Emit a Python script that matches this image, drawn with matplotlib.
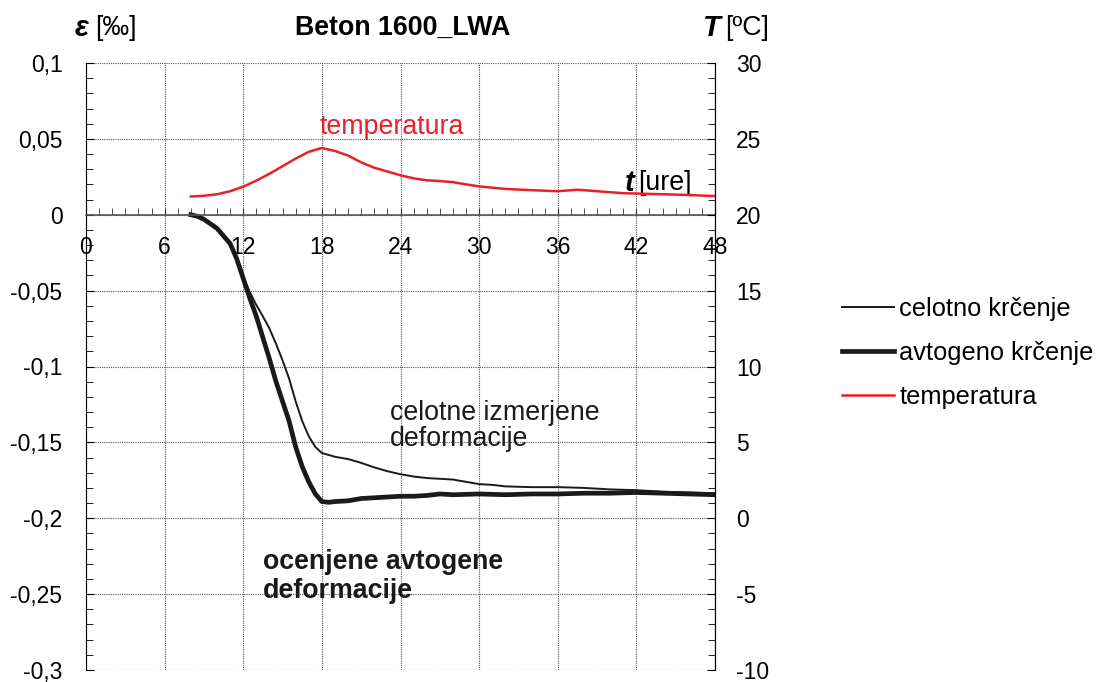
import matplotlib
matplotlib.use("Agg")
import matplotlib.pyplot as plt
from matplotlib.ticker import MultipleLocator, FixedLocator
from matplotlib.lines import Line2D

plt.rcParams['font.family'] = ['Liberation Sans', 'DejaVu Sans']
plt.rcParams['font.size'] = 16.5
big = 19.3

# temperature [degC], right axis
t_temp = [8, 9, 10, 11, 12, 13, 14, 15, 16, 17, 18, 19, 20, 21, 22, 23, 24, 25, 26, 27,
          28, 29, 30, 32, 34, 36, 37.5, 39, 41, 44, 46, 48]
temp = [21.2, 21.25, 21.35, 21.55, 21.85, 22.25, 22.7, 23.2, 23.7, 24.15, 24.4, 24.2, 23.9,
        23.45, 23.1, 22.85, 22.6, 22.4, 22.27, 22.22, 22.15, 22.0, 21.87, 21.7, 21.62, 21.55,
        21.65, 21.55, 21.42, 21.35, 21.3, 21.23]

# total measured shrinkage [permille]
t_tot = [8, 8.5, 9, 10, 11, 11.5, 12, 12.5, 13, 13.5, 14, 14.5, 15, 15.5, 16, 16.5, 17, 17.5,
         18, 19, 20, 21, 22, 23, 24, 25, 26, 27, 28, 29, 30, 31, 32, 34, 36, 38, 40, 42, 44, 46, 48]
eps_tot = [0, -0.001, -0.003, -0.009, -0.019, -0.029, -0.041, -0.051, -0.0595, -0.067, -0.075,
           -0.085, -0.096, -0.108, -0.123, -0.136, -0.146, -0.153, -0.157, -0.1595, -0.161,
           -0.1635, -0.1665, -0.169, -0.171, -0.1725, -0.1735, -0.174, -0.1745, -0.176, -0.1775,
           -0.178, -0.179, -0.1795, -0.1795, -0.180, -0.181, -0.1815, -0.1825, -0.183, -0.1835]

# estimated autogenous shrinkage [permille]
t_auto = [8, 8.5, 9, 10, 11, 11.5, 12, 12.5, 13, 13.5, 14, 14.5, 15, 15.5, 16, 16.5, 17, 17.5,
          18, 18.5, 19, 20, 21, 22, 23, 24, 25, 26, 27, 28, 30, 32, 34, 36, 38, 40, 42, 44, 46, 48]
eps_auto = [0, -0.001, -0.003, -0.009, -0.019, -0.029, -0.042, -0.055, -0.067, -0.081, -0.095,
            -0.110, -0.123, -0.136, -0.153, -0.166, -0.176, -0.184, -0.189, -0.1895, -0.189,
            -0.1885, -0.187, -0.1865, -0.186, -0.1855, -0.1855, -0.185, -0.184, -0.1845, -0.184,
            -0.1845, -0.184, -0.184, -0.1835, -0.1835, -0.183, -0.1835, -0.184, -0.1845]

x_ticks = [0, 6, 12, 18, 24, 30, 36, 42, 48]
y_ticks = [0.1, 0.05, 0, -0.05, -0.1, -0.15, -0.2, -0.25, -0.3]
y_labels = ["0,1", "0,05", "0", "-0,05", "-0,1", "-0,15", "-0,2", "-0,25", "-0,3"]
t_ticks = [30, 25, 20, 15, 10, 5, 0, -5, -10]

red = '#e8202a'
blk = '#1a1a1a'

fig = plt.figure(figsize=(10.98, 6.82), dpi=100)
ax = fig.add_axes([86 / 1098, 12 / 682, 629 / 1098, 607 / 682])
ax.set_xlim(0, 48)
ax.set_ylim(-0.3, 0.1)

ax.spines['top'].set_visible(False)
ax.spines['bottom'].set_position(('data', 0))
ax.spines['bottom'].set_color('#555555')
ax.spines['bottom'].set_linewidth(1.2)

ax.xaxis.set_major_locator(FixedLocator(x_ticks))
ax.xaxis.set_minor_locator(MultipleLocator(1))
ax.set_xticklabels([str(v) for v in x_ticks])
ax.tick_params(axis='x', which='both', direction='in', pad=15, color='#333333', length=5)

ax.yaxis.set_major_locator(FixedLocator(y_ticks))
ax.set_yticklabels(y_labels)
ax.yaxis.set_minor_locator(MultipleLocator(0.01))
ax.tick_params(axis='y', which='both', direction='in', pad=17)
ax.tick_params(axis='y', which='major', length=6)
ax.tick_params(axis='y', which='minor', length=5)

ax.grid(True, which='major', ls=(0, (1, 1)), color='#555555', lw=0.8)

ax.plot(t_tot, eps_tot, color=blk, lw=1.4)
ax.plot(t_auto, eps_auto, color=blk, lw=3.4)

ax2 = ax.twinx()
ax2.set_ylim(-10, 30)
for s in ['top', 'bottom', 'left']:
    ax2.spines[s].set_visible(False)
ax2.yaxis.set_major_locator(FixedLocator(t_ticks))
ax2.set_yticklabels([str(v) for v in t_ticks])
ax2.yaxis.set_minor_locator(MultipleLocator(1))
ax2.tick_params(axis='y', which='both', direction='in', pad=15)
ax2.tick_params(axis='y', which='major', length=6)
ax2.tick_params(axis='y', which='minor', length=5)
ax2.plot(t_temp, temp, color=red, lw=1.8)

# annotations
ax.text(17.85, 0.0575, 'temperatura', color=red, ha='left', va='center', fontsize=big)
ax.text(23.2, -0.1395, 'celotne izmerjene\ndeformacije', color=blk, ha='left', va='center',
        linespacing=1.0, fontsize=big)
ax.text(13.5, -0.2385, 'ocenjene avtogene\ndeformacije', color=blk, ha='left', va='center',
        fontweight='bold', linespacing=1.12, fontsize=big)
ax.text(41.1, 0.021, 't', fontweight='bold', fontstyle='italic', ha='left', va='center',
        fontsize=21)
ax.text(42.1, 0.021, '[ure]', ha='left', va='center', fontsize=big)

# header texts
fig.text(403 / 1098, 1 - 28 / 682, 'Beton 1600_LWA', ha='center', va='center',
         fontweight='bold', fontsize=big)
fig.text(75 / 1098, 1 - 28 / 682, 'ε', ha='left', va='center', fontweight='bold',
         fontstyle='italic', fontsize=21)
fig.text(95 / 1098, 1 - 28 / 682, '[‰]', ha='left', va='center', fontsize=big)
fig.text(703 / 1098, 1 - 28 / 682, 'T', ha='left', va='center', fontweight='bold',
         fontstyle='italic', fontsize=21)
fig.text(725 / 1098, 1 - 28 / 682, '[ºC]', ha='left', va='center', fontsize=big)

handles = [Line2D([], [], color=blk, lw=1.4),
           Line2D([], [], color=blk, lw=3.4),
           Line2D([], [], color=red, lw=1.8)]
fig.legend(handles, ['celotno krčenje', 'avtogeno krčenje', 'temperatura'],
           loc='upper left', bbox_to_anchor=(842 / 1098, 1 - 297 / 682), frameon=False,
           borderpad=0, borderaxespad=0, handlelength=2.05, handletextpad=0.2,
           labelspacing=0.78, fontsize=18.3)

fig.savefig('out.png', dpi=100)
